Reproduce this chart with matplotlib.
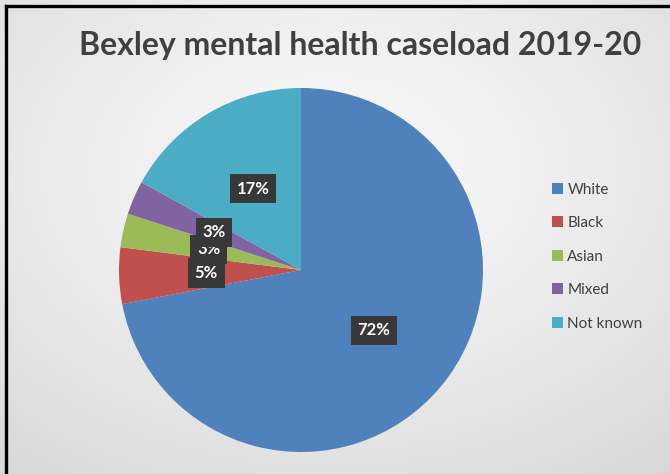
import numpy as np
import matplotlib
matplotlib.use("Agg")
import matplotlib.pyplot as plt
from matplotlib.patches import Patch
from matplotlib.lines import Line2D

# Caseload share by ethnicity (%)
categories = ["White", "Black", "Asian", "Mixed", "Not known"]
shares = [72, 5, 3, 3, 17]
colors = ["#4F81BD", "#C0504D", "#9BBB59", "#8064A2", "#4BACC6"]
title = "Bexley mental health caseload 2019-20"

W, H, DPI = 670, 474, 100
fig = plt.figure(figsize=(W / DPI, H / DPI), dpi=DPI)
plt.rcParams["font.family"] = ["Lato", "DejaVu Sans"]

# Soft radial background
bg = fig.add_axes([0, 0, 1, 1], zorder=-10)
yy, xx = np.mgrid[0:H, 0:W]
d = np.hypot((xx - 330) / W, (yy - 170) / H)
d = d / d.max()
shade = 0.975 - 0.13 * d ** 1.3
bg.imshow(np.dstack([shade] * 3), extent=[0, 1, 0, 1], aspect="auto", origin="upper")
bg.set_xlim(0, 1)
bg.set_ylim(0, 1)
bg.axis("off")

# Black frame along the top and left edges
bg.add_line(Line2D([6 / W, 6 / W], [0, 1 - 6 / H], color="black", lw=2.4, solid_capstyle="projecting"))
bg.add_line(Line2D([6 / W, 1], [1 - 6 / H, 1 - 6 / H], color="black", lw=2.4, solid_capstyle="projecting"))

# Pie
cx, cy, r = 301, 270, 182
ax = fig.add_axes([(cx - r) / W, (H - cy - r) / H, 2 * r / W, 2 * r / H])
wedges, texts, autotexts = ax.pie(
    shares, colors=colors, startangle=90, counterclock=False,
    autopct="%d%%", pctdistance=0.52, radius=1,
    wedgeprops=dict(linewidth=0),
    textprops=dict(color="white", fontsize=12, fontweight="bold"),
)
ax.set_xlim(-1, 1)
ax.set_ylim(-1, 1)
ax.set_aspect("equal")

label_z = {"White": 5, "Black": 6, "Asian": 4, "Mixed": 7, "Not known": 5}
for name, t in zip(categories, autotexts):
    t.set_bbox(dict(boxstyle="square,pad=0.4", facecolor="#383838", edgecolor="none"))
    t.set_zorder(label_z[name])

# Legend
handles = [Patch(facecolor=c, edgecolor="none") for c in colors]
fig.legend(handles, categories, loc="upper left", bbox_to_anchor=(552 / W, 1 - 182.5 / H),
           frameon=False, fontsize=11, labelcolor="#404040",
           handlelength=0.7, handleheight=0.7, handletextpad=0.3, labelspacing=1.28,
           borderaxespad=0, borderpad=0)

fig.text(360 / W, 1 - 45 / H, title, ha="center", va="center",
         fontsize=23, fontweight="bold", color="#404040")

fig.savefig("out.png", dpi=DPI)
